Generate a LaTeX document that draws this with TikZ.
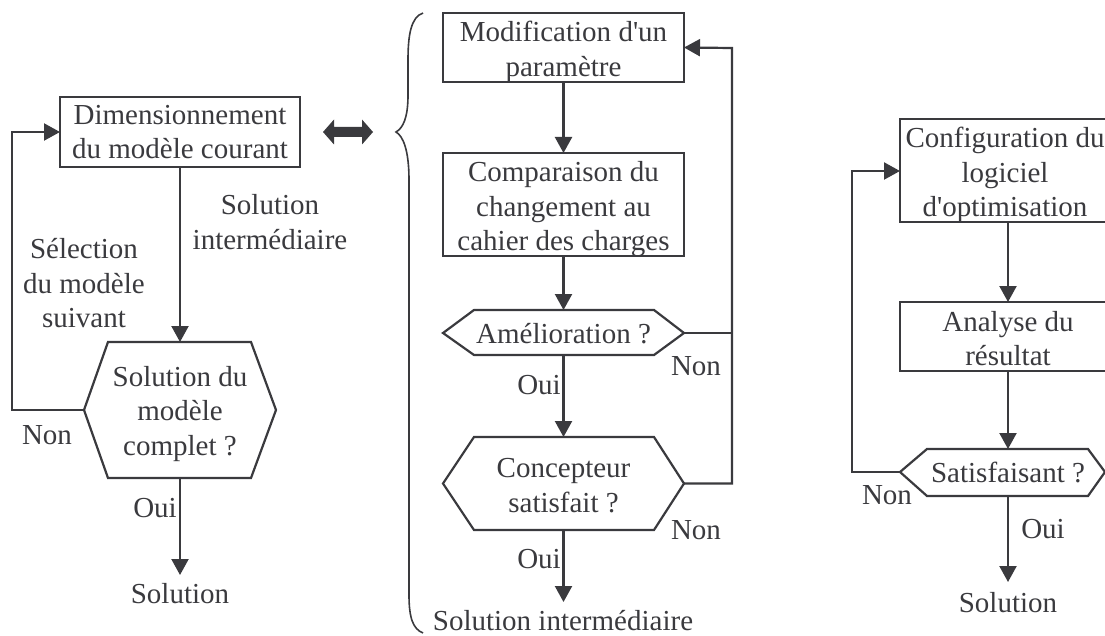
\documentclass[tikz,border=0pt]{standalone}
\usepackage{fontspec}
\newfontfamily\plainserif{Liberation Serif}
\usetikzlibrary{arrows.meta}
\definecolor{ink}{HTML}{3A3A3E}
\newcommand{\toprl}{\rule{0pt}{23.5pt}}
\tikzset{
  x=1pt,y=-1pt,
  every node/.style={text=ink,font=\plainserif\fontsize{29}{34.5}\selectfont,align=center,inner sep=0pt,outer sep=0pt,text depth=0pt},
  boxn/.style={draw=ink,line width=2.2pt,minimum width=#1},
  flow/.style={draw=ink,line width=2.2pt,-{Triangle[length=16pt,width=17pt]}},
  line/.style={draw=ink,line width=2.2pt}
}
\begin{document}
\begin{tikzpicture}
\useasboundingbox (0,0) rectangle (1105,636);
% left chart
\node[boxn=240,minimum height=70] (dim) at (180,132) {Dimensionnement\\du modèle courant};
\coordinate (hexLl) at (84,410);
\draw[line,fill=white] (108,342) -- (251,342) -- (276,410) -- (251,478) -- (108,478) -- (84,410) -- cycle;
\node (hexL) at (180,410.5) {Solution du\\modèle\\complet ?};
\coordinate (hexLb) at (180,478);
\coordinate (hexLt) at (180,342);
\coordinate (solLt) at (180,575);
\node (solL) at (180,593) {Solution};
\node (lb1) at (270,222) {Solution\\intermédiaire};
\node (lb2) at (84,283) {Sélection\\du modèle\\suivant};
\node (lb3) at (47,435) {Non};
\node (lb4) at (155,508) {Oui};
\draw[flow] (dim.south) -- (hexLt);
\draw[flow] (hexLb) -- (solLt);
\draw[flow] (hexLl) -- (12,410) -- (12,132) -- (dim.west);
% double arrow
\fill[ink] (323,132) -- (334,119.5) -- (334,127) -- (362,127) -- (362,119.5) -- (373,132) -- (362,144.5) -- (362,137) -- (334,137) -- (334,144.5) -- cycle;
% brace
\draw[line,line width=1.6pt] (423,13) .. controls (411,17) and (408,35) .. (408,60) -- (408,95) .. controls (408,118) and (403,128) .. (396,132) .. controls (403,136) and (409,150) .. (409,180) -- (409,595) .. controls (409,618) and (413,629) .. (423,633);
% middle chart
\node[boxn=241,minimum height=69] (mod) at (563.5,47.5) {\toprl Modification d'un\\paramètre};
\node[boxn=241,minimum height=103] (cmp) at (563.5,204.5) {\toprl Comparaison du\\changement au\\cahier des charges};
\draw[line,fill=white] (474,310) -- (654,310) -- (684,333) -- (654,355) -- (474,355) -- (443,333) -- cycle;
\node (amel) at (563.5,333) {Amélioration ?};
\coordinate (amT) at (563.5,310);
\coordinate (amB) at (563.5,355);
\coordinate (amR) at (684,333);
\draw[line,fill=white] (474,437) -- (654,437) -- (684,483.5) -- (654,530) -- (474,530) -- (443,483.5) -- cycle;
\node (conc) at (563.5,485.5) {Concepteur\\satisfait ?};
\coordinate (coT) at (563.5,437);
\coordinate (coB) at (563.5,530);
\coordinate (coR) at (684,483.5);
\coordinate (sinT) at (563.5,602);
\node (sin) at (563,620) {Solution intermédiaire};
\node (n1) at (696,366) {Non};
\node (n2) at (696,530) {Non};
\node (o1) at (539,385) {Oui};
\node (o2) at (539,559) {Oui};
\draw[flow] (mod.south) -- (cmp.north);
\draw[flow] (cmp.south) -- (amT);
\draw[flow] (amB) -- (coT);
\draw[flow] (coB) -- (sinT);
\draw[flow] (coR) -- (732,483.5) -- (732,48) -- (mod.east);
\draw[line] (amR) -- (732,333);
% right chart
\node[boxn=210,minimum height=103] (cfg) at (1005,170.5) {\toprl Configuration du\\logiciel\\d'optimisation};
\node[boxn=216,minimum height=69] (ana) at (1008,336.5) {\toprl Analyse du\\résultat};
\draw[line,fill=white] (927,449) -- (1088,449) -- (1105,472) -- (1088,496) -- (927,496) -- (900,472) -- cycle;
\node (sat) at (1008,472) {Satisfaisant ?};
\coordinate (saT) at (1008,449);
\coordinate (saB) at (1008,496);
\coordinate (saL) at (900,472);
\coordinate (soT) at (1008,582);
\node (sor) at (1008,602) {Solution};
\node (n3) at (887,495) {Non};
\node (o3) at (1043,529) {Oui};
\draw[flow] (ana.north |- cfg.south) -- (ana.north);
\draw[flow] (ana.south) -- (saT);
\draw[flow] (saB) -- (soT);
\draw[flow] (saL) -- (852,472) -- (852,171) -- (cfg.west |- 0,171);
\end{tikzpicture}
\end{document}
